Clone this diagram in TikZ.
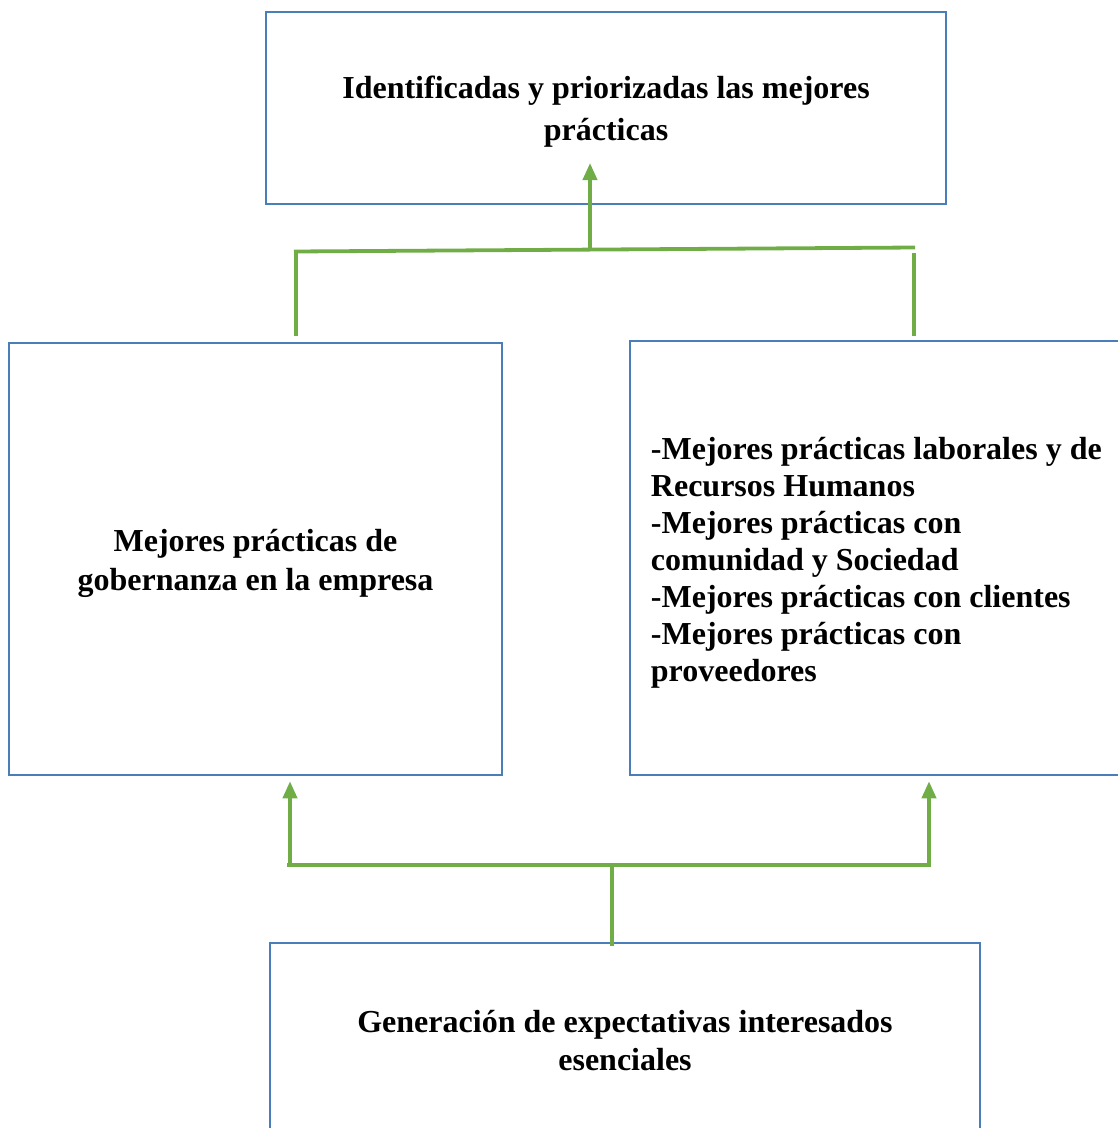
\documentclass[tikz,border=0pt]{standalone}
\usepackage{fontspec}
\setmainfont{Liberation Serif}
\usetikzlibrary{arrows.meta}
\definecolor{boxblue}{HTML}{4A7EBB}
\definecolor{lgreen}{HTML}{70AD47}
\begin{document}
\begin{tikzpicture}[
  box/.style={draw=boxblue, line width=2.5pt, rectangle, inner sep=0pt,
    font=\fontsize{32}{37}\selectfont\bfseries, align=center},
  txt/.style={inner sep=0pt, font=\fontsize{32}{37}\selectfont\bfseries},
  conn/.style={draw=lgreen, line width=3.8pt},
  arr/.style={conn, -{Triangle[width=14pt,length=17pt]}}
]
\useasboundingbox (0,0) rectangle (1118pt,-1128pt);
\clip (0,0) rectangle (1118pt,-1128pt);

\node[box, minimum width=680pt, minimum height=192pt] (top) at (606pt,-108pt) {};
\node[txt, align=center, font=\fontsize{32}{42}\selectfont\bfseries] (toptext)
  at ([yshift=-4pt]top.center)
  {Identificadas y priorizadas las mejores\\prácticas};
\node[box, minimum width=493pt, minimum height=432pt] (left) at (255.5pt,-559pt) {};
\node[txt, align=center, font=\fontsize{32}{39}\selectfont\bfseries] (ltext)
  at ([yshift=-4pt]left.center)
  {Mejores prácticas de\\gobernanza en la empresa};
\node[box, minimum width=506pt, minimum height=434pt] (right) at (883pt,-558pt) {};
\node[txt, anchor=west, align=left] (rtext) at ([xshift=22pt,yshift=-5pt]right.west)
  {-Mejores prácticas laborales y de\\Recursos Humanos\\-Mejores prácticas con\\comunidad y Sociedad\\-Mejores prácticas con clientes\\-Mejores prácticas con\\proveedores};
\node[box, minimum width=710pt, minimum height=196pt,
  font=\fontsize{32}{38}\selectfont\bfseries] (bottom) at (625pt,-1041pt)
  {Generación de expectativas interesados\\esenciales};

% upper connector
\coordinate (tl) at (294pt,-251.5pt);
\coordinate (tr) at (915pt,-247.5pt);
\coordinate (tm) at (590pt,-249.5pt);
\coordinate (tipT) at (590pt,-163pt);
\draw[conn] (tl) -- (tr);
\draw[conn] (tl -| 296pt,0) -- ([yshift=6pt]left.north -| 296pt,0);
\draw[conn] (914pt,-253pt) -- ([yshift=4pt]right.north -| 914pt,0);
\draw[arr] (tm) -- (tipT);

% lower connector
\coordinate (bl) at (287pt,-865pt);
\coordinate (br) at (931pt,-865pt);
\coordinate (bm) at (612pt,-865pt);
\draw[conn] (bl) -- (br);
\draw[arr] (290pt,-865pt) -- ([yshift=-5pt]left.south -| 290pt,0);
\draw[arr] (929pt,-865pt) -- ([yshift=-5pt]right.south -| 929pt,0);
\draw[conn] (bm) -- ([yshift=-4pt]bottom.north -| bm);
\end{tikzpicture}
\end{document}
